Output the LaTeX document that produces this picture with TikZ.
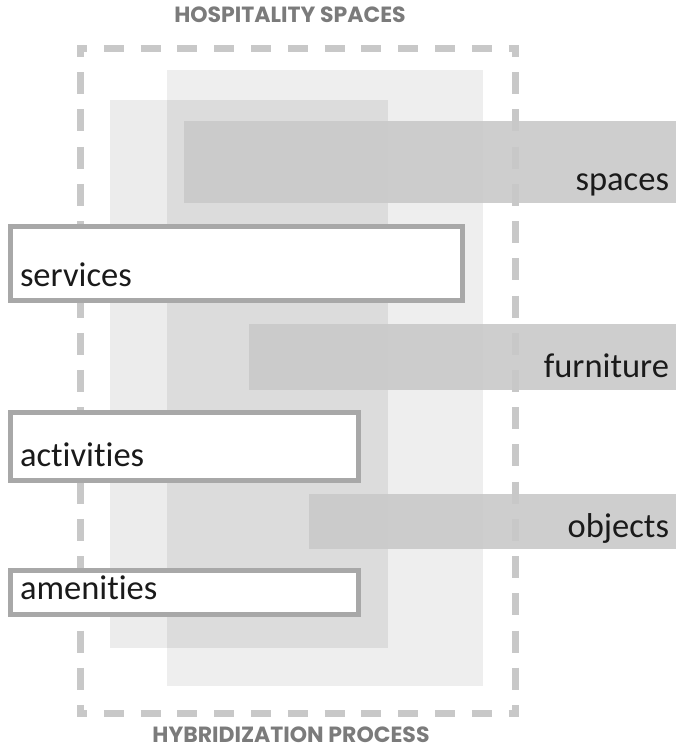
\documentclass[tikz,border=0pt]{standalone}
\usepackage{fontspec}
\setmainfont{Carlito}[Ligatures={NoCommon,NoRare}]
\newfontfamily\hdrfont{Poppins}
\definecolor{frameg}{HTML}{C8C8C8}
\definecolor{barg}{HTML}{C9C9C9}
\definecolor{boxg}{HTML}{A8A8A8}
\definecolor{hdrg}{HTML}{7B7B7B}
\definecolor{txtc}{HTML}{1A1A1A}
\tikzset{
  zone/.style={fill=black, fill opacity=#1, draw=none, inner sep=0pt, outer sep=0pt, anchor=north west},
  bar/.style={fill=barg, fill opacity=0.9, draw=none, inner sep=0pt, outer sep=0pt, anchor=north west},
  tagbox/.style={fill=white, draw=boxg, line width=5pt, inner sep=0pt, outer sep=0pt, anchor=north west},
  lbl/.style={font=\fontsize{34.5}{40}\selectfont, text=txtc, inner sep=0pt, outer sep=0pt},
  hdr/.style={font=\hdrfont\bfseries\fontsize{22}{26}\selectfont, text=hdrg, inner sep=0pt, anchor=base},
  frameline/.style={draw=frameg, line width=7pt},
  hside/.style={frameline, dash pattern=on 20pt off 16.8pt, dash phase=10pt},
  vside/.style={frameline, dash pattern=on 22pt off 15.22pt, dash phase=10pt},
}
\begin{document}
\begin{tikzpicture}[x=1pt,y=-1pt]
\useasboundingbox (0,0) rectangle (676,749);
% light zones
\node[zone=0.065, minimum width=316pt, minimum height=616pt] (zoneA) at (167,70) {};
\node[zone=0.075, minimum width=278pt, minimum height=548pt] (zoneB) at (110,100) {};
% dashed frame
\coordinate (ftl) at (77,48.5);
\coordinate (ftr) at (518.5,48.5);
\coordinate (fbl) at (77,713.5);
\coordinate (fbr) at (518.5,713.5);
\coordinate (fl1) at (80.5,45);
\coordinate (fl2) at (80.5,717);
\coordinate (fr1) at (515,45);
\coordinate (fr2) at (515,717);
\draw[hside] (ftl) -- (ftr);
\draw[hside] (fbl) -- (fbr);
\draw[vside] (fl1) -- (fl2);
\draw[vside] (fr1) -- (fr2);
% bars
\node[bar, minimum width=492pt, minimum height=82pt] (spacesbar) at (184,121) {};
\node[bar, minimum width=427pt, minimum height=66pt] (furniturebar) at (249,324) {};
\node[bar, minimum width=367pt, minimum height=55pt] (objectsbar) at (309,494) {};
% boxes
\node[tagbox, minimum width=452pt, minimum height=74pt] (servicesbox) at (10.5,226) {};
\node[tagbox, minimum width=348.5pt, minimum height=68pt] (activitiesbox) at (10,412) {};
\node[tagbox, minimum width=348.5pt, minimum height=44pt] (amenitiesbox) at (10,570.5) {};
% labels
\node[lbl, anchor=base west] (servicesL) at (20,286) {services};
\node[lbl, anchor=base west] (activitiesL) at (20,466) {activities};
\node[lbl, anchor=base west] (amenitiesL) at (20,599) {amenities};
\node[lbl, anchor=base east] (spacesL) at (669,190) {spaces};
\node[lbl, anchor=base east] (furnitureL) at (669,377) {furniture};
\node[lbl, anchor=base east] (objectsL) at (669,537) {objects};
% headers
\node[hdr] (hosp) at (290,23) {HOSPITALITY SPACES};
\node[hdr] (hybr) at (291,742) {HYBRIDIZATION PROCESS};
\end{tikzpicture}
\end{document}
